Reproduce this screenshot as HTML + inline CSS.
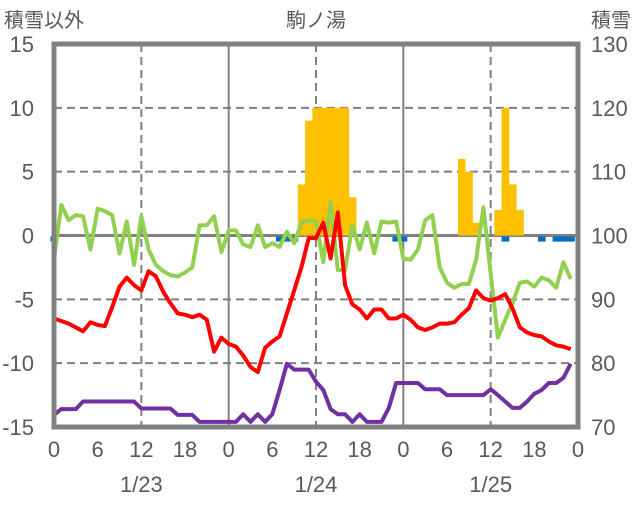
<!DOCTYPE html>
<html><head><meta charset="utf-8">
<style>
html,body{margin:0;padding:0;background:#fff;}
svg text{font-family:"Liberation Sans Narrow","Liberation Sans","Noto Sans CJK JP",sans-serif;fill:#595959;}
</style></head>
<body>
<svg id="chart" width="636" height="501" viewBox="0 0 636 501" xmlns="http://www.w3.org/2000/svg">
<text x="4" y="27" font-size="20" style="font-family:'Noto Sans CJK JP',sans-serif">積雪以外</text>
<text x="316" y="27" font-size="20" text-anchor="middle" style="font-family:'Noto Sans CJK JP',sans-serif">駒ノ湯</text>
<text x="591" y="27" font-size="20" style="font-family:'Noto Sans CJK JP',sans-serif">積雪</text>
<g id="grid"></g><g id="bars"></g><g id="lines"></g><g id="frame"></g><g id="labels"></g>
</svg>
<script>
const hours = Array.from({length:72},(_,i)=>i);
const temperature = [-6.5,-6.7,-6.9,-7.2,-7.5,-6.8,-7.0,-7.1,-5.6,-4.0,-3.3,-3.9,-4.3,-2.8,-3.2,-4.4,-5.3,-6.1,-6.2,-6.4,-6.2,-6.6,-9.1,-8.0,
 -8.5,-8.7,-9.4,-10.3,-10.7,-8.8,-8.3,-7.9,-6.1,-4.3,-2.5,-0.2,-0.2,1.0,-1.8,1.8,-3.9,-5.4,-5.8,-6.5,-5.8,-5.8,-6.5,-6.5,
 -6.2,-6.6,-7.2,-7.4,-7.2,-6.9,-6.9,-6.8,-6.2,-5.7,-4.3,-4.9,-5.1,-4.9,-4.6,-5.7,-7.2,-7.6,-7.8,-7.9,-8.3,-8.6,-8.7,-8.9];
const wind = [-1.9,2.4,1.2,1.6,1.5,-1.1,2.1,1.9,1.6,-1.4,1.1,-2.3,1.5,-1.1,-2.3,-2.8,-3.1,-3.2,-2.9,-2.5,0.8,0.8,1.5,-1.3,
 0.4,0.4,-0.7,-0.9,0.8,-0.9,-0.6,-0.9,0.3,-0.6,1.0,1.2,1.1,-2.1,2.6,-2.7,-2.7,0.8,-1.1,1.0,-1.4,1.1,1.0,1.1,
 -1.8,-1.9,-1.1,1.2,1.6,-2.5,-3.7,-4.1,-3.8,-3.8,-1.9,2.2,-3.0,-8.0,-6.6,-5.3,-3.7,-3.6,-4.0,-3.3,-3.5,-4.1,-2.1,-3.4];
const snowDepth = [71.9,72.8,72.8,72.8,74.0,74.0,74.0,74.0,74.0,74.0,74.0,74.0,72.9,72.9,72.9,72.9,72.9,71.9,71.9,71.9,70.8,70.8,70.8,70.8,
 70.8,70.8,72.0,70.8,72.0,70.8,72.0,75.8,79.9,79.0,79.0,79.0,77.1,75.8,72.8,72.0,72.0,70.8,72.0,70.8,70.8,70.8,73.0,76.9,
 76.9,76.9,76.9,75.9,75.9,75.9,75.0,75.0,75.0,75.0,75.0,75.0,75.9,75.0,74.0,73.0,73.0,74.0,75.2,75.8,76.9,76.9,77.7,79.9];
const snowGain = [0,0,0,0,0,0,0,0,0,0,0,0,0,0,0,0,0,0,0,0,0,0,0,0,
 0,0,0,0,0,0,0,0,0,0,8,18,20,20,20,20,20,6,0,0,0,0,0,0,
 0,0,0,0,0,0,0,0,12,10,2,0,0,4,20,8,4,0,0,0,0,0,0,0];
const snowLoss = [-0.8,0,0,0,0,0,0,0,0,0,0,0,0,0,0,0,0,0,0,0,0,0,0,0,
 0,0,0,0,0,0,0,-0.8,-0.8,-0.8,0,0,0,0,0,0,0,0,0,0,0,0,0,-0.8,
 -0.8,0,0,0,0,0,0,0,0,0,0,0,0,0,-0.8,0,0,0,0,-0.8,0,-0.8,-0.8,-0.8];
const leftTicks = [15,10,5,0,-5,-10,-15];
const rightTicks = [130,120,110,100,90,80,70];
const hourTicks = ["0","6","12","18","0","6","12","18","0","6","12","18","0"];
const dateLabels = ["1/23","1/24","1/25"];

const X0=54,X1=578,Y0=44,Y1=427;
const xH=h=>X0+(X1-X0)*h/72;
const yL=v=>Y1-(v+15)/30*(Y1-Y0);
const yR=v=>Y1-(v-70)/60*(Y1-Y0);
const NS="http://www.w3.org/2000/svg";
function mk(tag,attrs,parent){const e=document.createElementNS(NS,tag);for(const k in attrs)e.setAttribute(k,attrs[k]);document.getElementById(parent).appendChild(e);return e;}

// grid
leftTicks.forEach(t=>{
  if(t===15||t===-15)return;
  const y=yL(t);
  const e=mk('line',{x1:X0,x2:X1,y1:y,y2:y,stroke:'#808080','stroke-width':t===0?3:2,'stroke-dasharray':t===0?'':'8,5'},'grid');
  
  
});
for(let h=12;h<72;h+=12){
  const x=xH(h);const day=h%24===0;
  const e=mk('line',{x1:x,x2:x,y1:Y0,y2:Y1,stroke:'#808080','stroke-width':2,'stroke-dasharray':day?'':'8,5'},'grid');
  
  
}
// bars
const bw=(X1-X0)/72;
hours.forEach(h=>{
  if(snowGain[h]>0){
    const e=mk('rect',{x:xH(h)-bw/2,y:yR(100+snowGain[h]),width:bw+0.4,height:yR(100)-yR(100+snowGain[h]),fill:'#FFC000'},'bars');
    
    
  }
  if(snowLoss[h]<0){
    const e=mk('rect',{x:xH(h)-bw/2,y:yR(100)+1,width:bw+0.4,height:yR(100+snowLoss[h])-yR(100),fill:'#0070C0'},'bars');
    
    
  }
});
// lines
function line(arr,yf,color,name){
  const pts=arr.map((v,i)=>xH(i).toFixed(1)+','+yf(v).toFixed(1)).join(' ');
  const e=mk('polyline',{points:pts,fill:'none',stroke:color,'stroke-width':4,'stroke-linejoin':'round'},'lines');
  
  
}
line(wind,yL,'#92D050','wind-line');
line(snowDepth,yR,'#7030A0','snow-depth-line');
line(temperature,yL,'#FF0000','temperature-line');
// frame
const fr=mk('rect',{x:X0,y:Y0,width:X1-X0,height:Y1-Y0,fill:'none',stroke:'#808080','stroke-width':5},'frame');


// labels
leftTicks.forEach(t=>{
  const e=mk('text',{x:34,y:yL(t)+8,'font-size':22,'text-anchor':'end'},'labels');e.textContent=t;
  
  
});
rightTicks.forEach(t=>{
  const e=mk('text',{x:591,y:yR(t)+8,'font-size':22},'labels');e.textContent=t;
  
  
});
hourTicks.forEach((t,i)=>{
  const e=mk('text',{x:xH(i*6),y:457,'font-size':22,'text-anchor':'middle'},'labels');e.textContent=t;
  
  
});
dateLabels.forEach((t,i)=>{
  const e=mk('text',{x:xH(i*24+12),y:492,'font-size':22,'text-anchor':'middle'},'labels');e.textContent=t;
  
  
});
</script>
</body></html>
